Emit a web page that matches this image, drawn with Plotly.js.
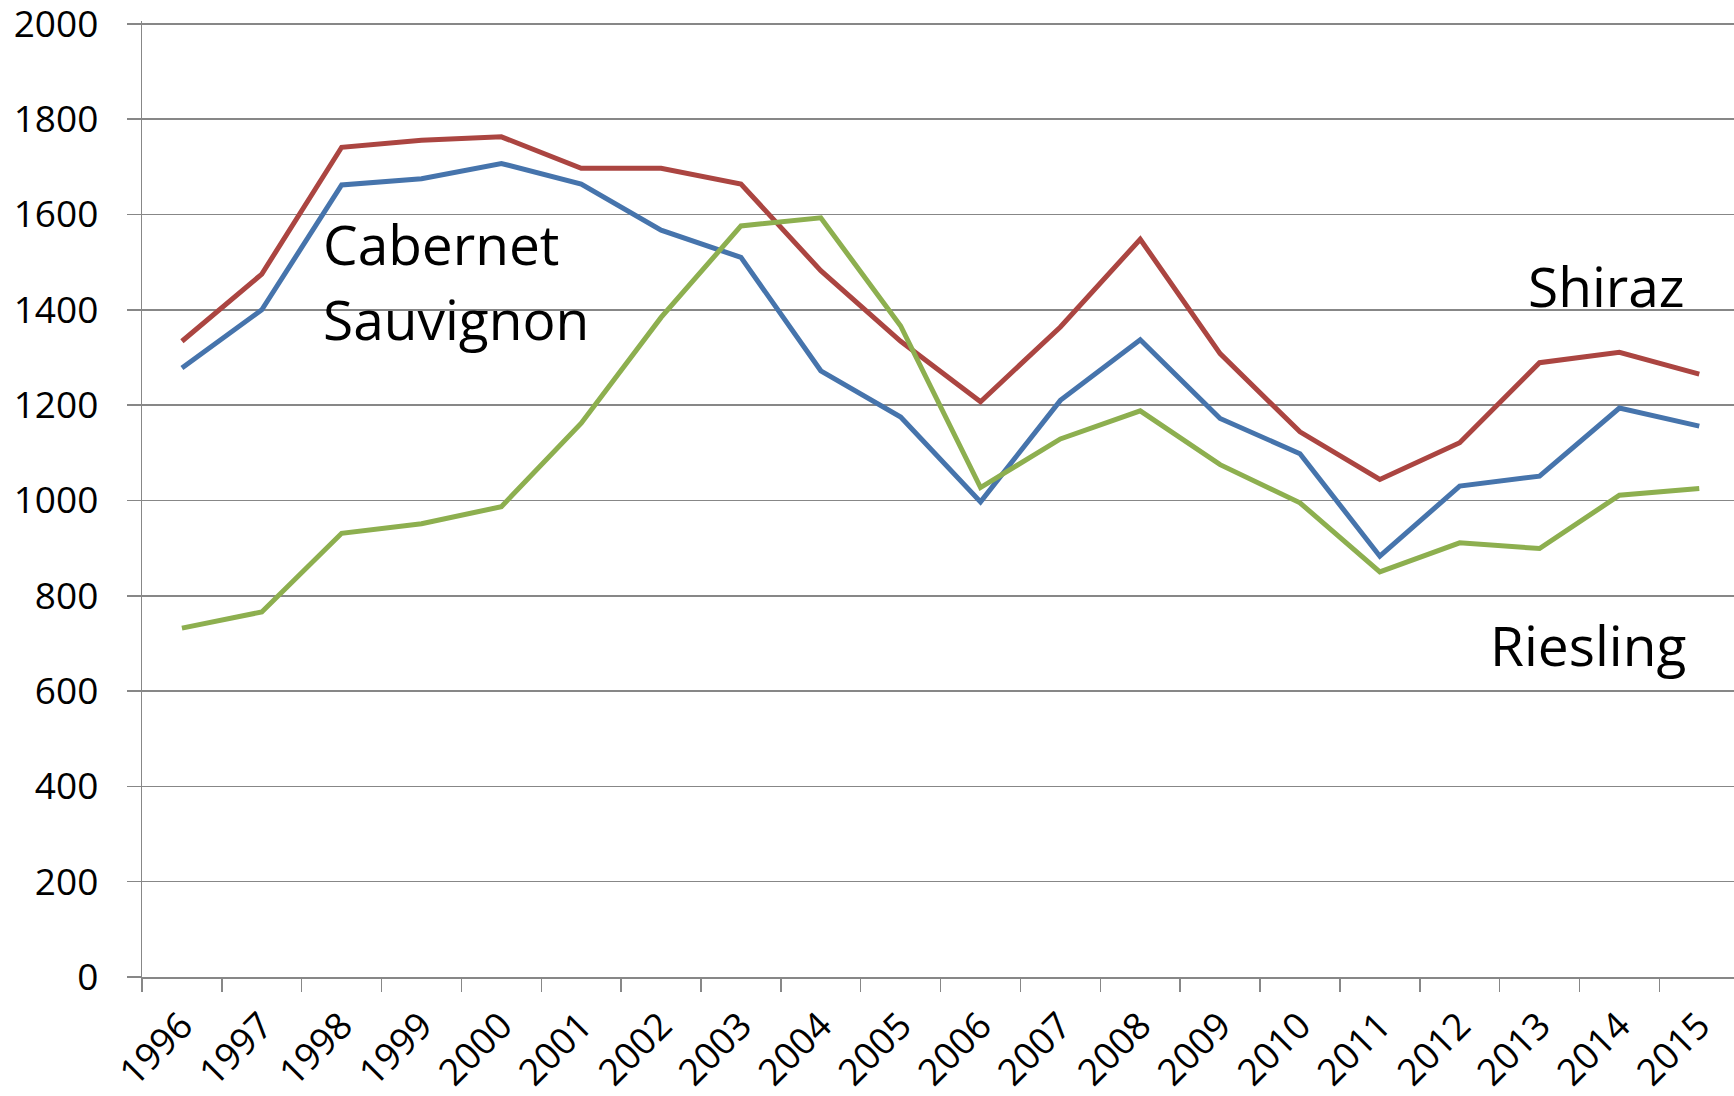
<!DOCTYPE html>
<html>
<head>
<meta charset="utf-8">
<script src="https://cdn.plot.ly/plotly-3.0.1.min.js"></script>
<style>
  html, body { margin: 0; padding: 0; background: #ffffff; }
  #chart { width: 1734px; height: 1096px; }
</style>
</head>
<body>
<div id="chart"></div>
<script>
const years = ['1996','1997','1998','1999','2000','2001','2002','2003','2004','2005',
               '2006','2007','2008','2009','2010','2011','2012','2013','2014','2015'];
const cabernet = [1278, 1400, 1662, 1675, 1707, 1664, 1567, 1510, 1272, 1175,
                  997, 1210, 1337, 1172, 1098, 883, 1030, 1051, 1194, 1156];
const shiraz   = [1334, 1475, 1741, 1756, 1763, 1697, 1697, 1664, 1482, 1334,
                  1207, 1364, 1548, 1308, 1144, 1044, 1121, 1289, 1311, 1265];
const riesling = [732, 766, 931, 951, 987, 1162, 1384, 1576, 1593, 1366,
                  1027, 1129, 1188, 1075, 995, 850, 911, 899, 1011, 1025];
const yTicks = [0, 200, 400, 600, 800, 1000, 1200, 1400, 1600, 1800, 2000];

const FONT = "'Open Sans', sans-serif";
const GRID = '#878787';

const traces = [
  { name: 'Cabernet Sauvignon', x: years, y: cabernet, type: 'scatter', mode: 'lines',
    line: { color: '#4674AC', width: 5 } },
  { name: 'Shiraz', x: years, y: shiraz, type: 'scatter', mode: 'lines',
    line: { color: '#AB4541', width: 5 } },
  { name: 'Riesling', x: years, y: riesling, type: 'scatter', mode: 'lines',
    line: { color: '#8DAF4F', width: 5 } }
];

const annFont = { family: FONT, size: 55, color: '#000000' };
const layout = {
  width: 1734, height: 1096,
  margin: { l: 142, r: 0, t: 21, b: 119, pad: 0 },
  paper_bgcolor: '#ffffff', plot_bgcolor: '#ffffff',
  showlegend: false,
  font: { family: FONT, color: '#000000' },
  xaxis: {
    type: 'category',
    range: [-0.5, 19.435],
    tickson: 'boundaries',
    ticks: 'outside', ticklen: 13, tickwidth: 1.5, tickcolor: GRID,
    showgrid: false, zeroline: false,
    showline: true, linecolor: GRID, linewidth: 2,
    tickangle: -45,
    ticklabelstandoff: 10,
    ticklabeloverflow: 'allow',
    tickfont: { family: FONT, size: 37, color: '#000000' }
  },
  yaxis: {
    range: [0, 2006],
    tickvals: yTicks,
    ticktext: yTicks.map(String),
    ticks: 'outside', ticklen: 14, tickwidth: 1.6, tickcolor: GRID,
    showgrid: true, gridcolor: GRID, gridwidth: 1.6,
    zeroline: false,
    showline: true, linecolor: GRID, linewidth: 1.3,
    ticklabelstandoff: 21,
    ticklabeloverflow: 'allow',
    tickfont: { family: FONT, size: 37, color: '#000000' }
  },
  annotations: [
    { text: 'Cabernet', x: 1.74, y: 1540, xref: 'x', yref: 'y', xanchor: 'left', yanchor: 'middle',
      showarrow: false, font: annFont },
    { text: 'Sauvignon', x: 1.74, y: 1381, xref: 'x', yref: 'y', xanchor: 'left', yanchor: 'middle',
      showarrow: false, font: annFont },
    { text: 'Shiraz', x: 18.85, y: 1451, xref: 'x', yref: 'y', xanchor: 'right', yanchor: 'middle',
      showarrow: false, font: annFont },
    { text: 'Riesling', x: 18.86, y: 698, xref: 'x', yref: 'y', xanchor: 'right', yanchor: 'middle',
      showarrow: false, font: annFont }
  ]
};

Plotly.newPlot('chart', traces, layout, { displayModeBar: false, staticPlot: true });
</script>
</body>
</html>
